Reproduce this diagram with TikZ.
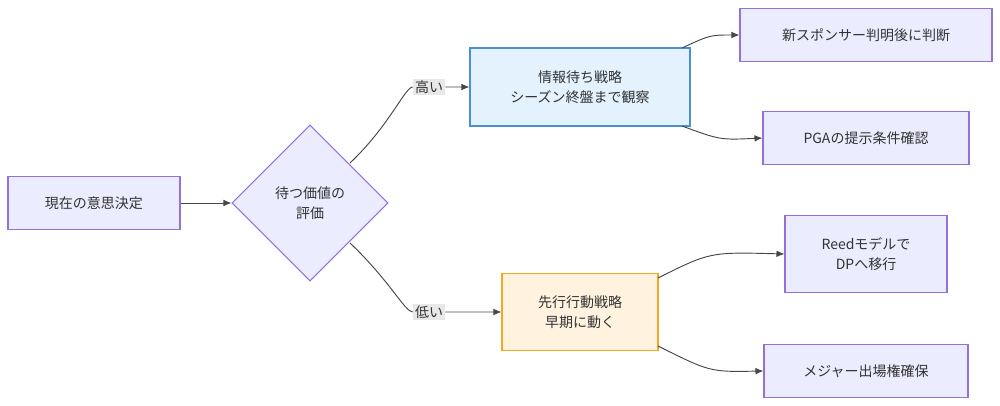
\documentclass[tikz,border=0pt]{standalone}
\usepackage{fontspec}
\setmainfont{Noto Sans CJK JP}
\usetikzlibrary{shapes.geometric,arrows.meta}
\definecolor{mfill}{HTML}{ECECFF}
\definecolor{mline}{HTML}{9370DB}
\definecolor{bfill}{HTML}{E3F2FD}
\definecolor{bline}{HTML}{4A90D9}
\definecolor{ofill}{HTML}{FFF3E0}
\definecolor{oline}{HTML}{F5A623}
\definecolor{tx}{HTML}{333333}
\definecolor{lbl}{HTML}{E8E8E8}
\begin{document}
\begin{tikzpicture}[x=0.75pt,y=-0.75pt,
  box/.style={draw=mline,fill=mfill,line width=0.8pt,text=tx,font=\fontsize{10.5}{15}\selectfont,align=center,inner sep=0pt},
  edge/.style={draw=tx!90,line width=0.7pt,-{Latex[length=6pt,width=5pt]}},
  el/.style={fill=lbl,text=tx,font=\fontsize{10.5}{13}\selectfont,inner sep=1.5pt}]
\useasboundingbox (0,0) rectangle (1000,406);
\node[box,minimum width=129pt,minimum height=40pt] (a) at (94,203) {現在の意思決定};
\node[box,diamond,minimum width=117pt,minimum height=117pt] (d) at (310,203) {待つ価値の\\評価};
\node[box,draw=bline,fill=bfill,minimum width=165pt,minimum height=58.5pt] (w) at (580,87) {情報待ち戦略\\シーズン終盤まで観察};
\node[box,draw=oline,fill=ofill,minimum width=117pt,minimum height=58pt] (p) at (580,312) {先行行動戦略\\早期に動く};
\node[box,minimum width=189pt,minimum height=40pt] (n1) at (866,35) {新スポンサー判明後に判断};
\node[box,minimum width=154.5pt,minimum height=40pt] (n2) at (866,138) {PGAの提示条件確認};
\node[box,minimum width=121.5pt,minimum height=58pt] (n3) at (866,254) {Reedモデルで\\DPへ移行};
\node[box,minimum width=153pt,minimum height=40pt] (n4) at (866,371) {メジャー出場権確保};
\node[el] (l1) at (429,87) {高い};
\node[el] (l2) at (429,312) {低い};
\draw[edge] (a) -- (d);
\draw[edge] (350,163) .. controls (390,125) and (405,87) .. (l1.west) (l1.east) .. controls (455,87) .. (w.west);
\draw[edge] (350,243) .. controls (390,281) and (405,312) .. (l2.west) (l2.east) .. controls (470,312) .. (p.west);
\draw[edge] (682,48) .. controls (710,35) .. (n1.west);
\draw[edge] (682,126) .. controls (720,140) .. (n2.west);
\draw[edge] (658,278) .. controls (710,252) .. (n3.west);
\draw[edge] (658,346) .. controls (710,372) .. (n4.west);
\end{tikzpicture}
\end{document}
